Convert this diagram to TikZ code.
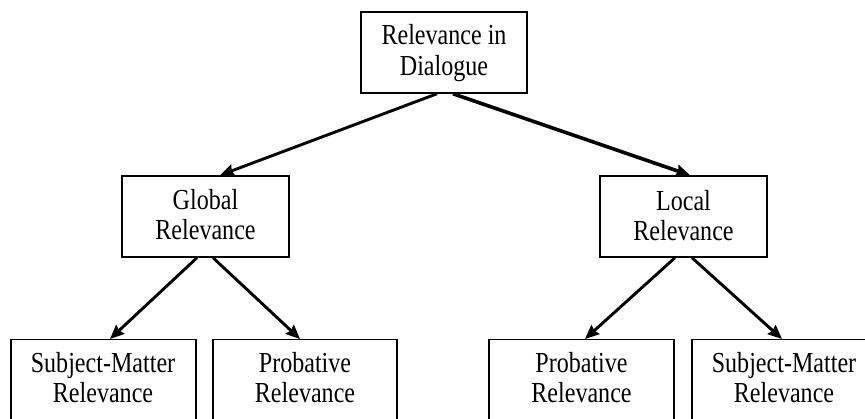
\documentclass[tikz,border=0pt]{standalone}
\usepackage{fontspec}
\setmainfont{Liberation Serif}[FakeStretch=0.83]
\usetikzlibrary{arrows.meta}
\begin{document}
\begin{tikzpicture}[x=1pt,y=-1pt,
  box/.style={draw=black,line width=1.5pt,fill=white,inner sep=0pt,minimum width=166pt,minimum height=81pt},
  lowbox/.style={box,minimum width=185pt,minimum height=130pt,anchor=north},
  lbl/.style={anchor=base,inner sep=0pt,font=\fontsize{29}{30}\selectfont},
  arr/.style={line width=2.9pt,-{Stealth[length=14pt,width=12pt,inset=1.5pt]}},
  arrthick/.style={arr,line width=3.6pt}]
\useasboundingbox (0,0) rectangle (865,419);
\clip (0,0) rectangle (865,419);
\fill[white] (0,0) rectangle (865,419);
% boxes
\node[box] (top) at (444,52.5) {};
\node[box,minimum width=167pt] (glob) at (205.5,216.5) {};
\node[box,minimum width=167pt] (loc) at (683.5,216.5) {};
\node[lowbox] (sm1) at (103.5,339) {};
\node[lowbox,minimum width=184pt] (pr1) at (305,339) {};
\node[lowbox] (pr2) at (581.5,339) {};
\node[lowbox] (sm2) at (784.5,339) {};
% texts
\node[lbl] (topa) at (444,45) {Relevance in};
\node[lbl] (topb) at (444,76) {Dialogue};
\node[lbl] (globa) at (205.5,210) {Global};
\node[lbl] (globb) at (205.5,240) {Relevance};
\node[lbl] (loca) at (683.5,210.5) {Local};
\node[lbl] (locb) at (683.5,240.5) {Relevance};
\node[lbl] (sm1a) at (103,373) {Subject-Matter};
\node[lbl] (sm1b) at (103,403) {Relevance};
\node[lbl] (pr1a) at (305,373) {Probative};
\node[lbl] (pr1b) at (305,403) {Relevance};
\node[lbl] (pr2a) at (581.5,373) {Probative};
\node[lbl] (pr2b) at (581.5,403) {Relevance};
\node[lbl] (sm2a) at (784,373) {Subject-Matter};
\node[lbl] (sm2b) at (784,403) {Relevance};
% connectors
\draw[arr] ([xshift=-7pt]top.south) -- ([xshift=14.5pt]glob.north);
\draw[arrthick] ([xshift=9pt]top.south) -- ([xshift=6.5pt]loc.north);
\draw[arr] ([xshift=-8.5pt]glob.south) -- ([xshift=6.5pt]sm1.north);
\draw[arr] ([xshift=7.5pt]glob.south) -- ([xshift=-5pt]pr1.north);
\draw[arr] ([xshift=-8.5pt]loc.south) -- ([xshift=3.5pt]pr2.north);
\draw[arr] ([xshift=8.5pt]loc.south) -- ([xshift=-2.5pt]sm2.north);
\end{tikzpicture}
\end{document}
